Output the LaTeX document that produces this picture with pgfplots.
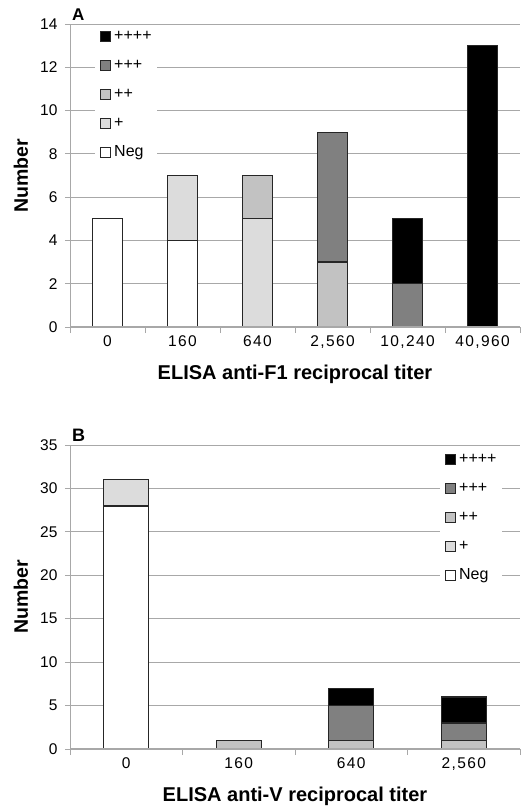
\documentclass[border=0pt]{standalone}
\usepackage{fontspec}
\setmainfont{Liberation Sans}
\newfontfamily\tickfont[LetterSpace=9]{Liberation Sans}
\usepackage{pgfplots}
\usepackage{pgfplotstable}
\pgfplotsset{compat=1.18}

\definecolor{cNeg}{HTML}{FFFFFF}
\definecolor{cPlus}{HTML}{DCDCDC}
\definecolor{cPP}{HTML}{C2C2C2}
\definecolor{cPPP}{HTML}{808080}
\definecolor{cPPPP}{HTML}{000000}
\definecolor{gridc}{HTML}{A8A8A8}

\pgfplotstableread{
x neg plus pp ppp pppp
0 5 0 0 0 0
1 4 3 0 0 0
2 0 5 2 0 0
3 0 0 3 6 0
4 0 0 0 2 3
5 0 0 0 0 13
}\dataA

\pgfplotstableread{
x neg plus pp ppp pppp
0 28 3 0 0 0
1 0 0 1 0 0
2 0 0 1 4 2
3 0 0 1 2 3
}\dataB

\pgfplotsset{
  sqleg/.style={legend image code/.code={\draw[##1, line width=1bp] (0bp,-5bp) rectangle (10bp,5bp);}},
  mybar/.style={
    scale only axis,
    width=450bp,
    ybar stacked,
    axis lines=left,
    axis line style={draw=gridc, line width=1bp, -},
    enlargelimits=false,
    ymin=0,
    ymajorgrids,
    grid style={draw=gridc, line width=1bp},
    tick align=outside,
    major tick length=5bp,
    minor tick length=6bp,
    tick style={draw=gridc, line width=1bp},
    major x tick style={draw=none},
    minor x tick style={draw=gridc, line width=1bp},
    tick label style={font=\fontsize{15.5bp}{18bp}\selectfont},
    xticklabel style={font=\tickfont\fontsize{15.5bp}{18bp}\selectfont},
    yticklabel style={xshift=-4bp},
    /pgf/number format/assume math mode=true,
    ylabel={Number},
    ylabel style={font=\bfseries\fontsize{19.5bp}{22bp}\selectfont, at={(axis description cs:-0.109,0.5)}, anchor=center},
    xlabel style={font=\bfseries\fontsize{20bp}{22bp}\selectfont, at={(axis description cs:0.5,0)}, anchor=center, yshift=-47bp},
    every axis plot/.append style={draw=black!85, line width=1.4bp, sqleg},
    reverse legend,
    legend style={draw=none, fill=white, inner xsep=5bp, inner ysep=3bp,
      row sep=15bp, column sep=3bp,
      font=\fontsize{16bp}{18bp}\selectfont,
      nodes={inner sep=0pt, text height=11bp, text depth=3bp},
      cells={anchor=west}},
  }
}

\begin{document}
\begin{tikzpicture}
\useasboundingbox (0,0) rectangle (522bp,-809bp);

\begin{axis}[mybar,
  at={(70bp,-327bp)}, anchor=south west,
  height=303bp,
  bar width=30bp,
  xmin=-0.5, xmax=5.5,
  ymax=14, ytick={0,2,...,14},
  xtick={0,1,2,3,4,5},
  xticklabels={0,160,640,{2,560},{10,240},{40,960}},
  minor xtick={-0.5,0.5,1.5,2.5,3.5,4.5,5.5},
  xlabel={ELISA anti-F1 reciprocal titer},
  legend style={at={(0.0556,0.9934)}, anchor=north west},
]
\draw[gridc, line width=1.7bp] (axis cs:-0.5,0) -- (axis cs:5.5,0);
\addplot[fill=cNeg] table[x=x,y=neg] {\dataA};
\addplot[fill=cPlus] table[x=x,y=plus] {\dataA};
\addplot[fill=cPP] table[x=x,y=pp] {\dataA};
\addplot[fill=cPPP] table[x=x,y=ppp] {\dataA};
\addplot[fill=cPPPP] table[x=x,y=pppp] {\dataA};
\legend{Neg,+,++,+++,++++}
\end{axis}

\begin{axis}[mybar,
  at={(70bp,-749bp)}, anchor=south west,
  height=304bp,
  bar width=45bp,
  xmin=-0.5, xmax=3.5,
  ymax=35, ytick={0,5,...,35},
  xtick={0,1,2,3},
  xticklabels={0,160,640,{2,560}},
  minor xtick={-0.5,0.5,1.5,2.5,3.5},
  xlabel={ELISA anti-V reciprocal titer},
  legend style={at={(0.8222,0.9868)}, anchor=north west},
]
\draw[gridc, line width=1.7bp] (axis cs:-0.5,0) -- (axis cs:3.5,0);
\addplot[fill=cNeg] table[x=x,y=neg] {\dataB};
\addplot[fill=cPlus] table[x=x,y=plus] {\dataB};
\addplot[fill=cPP] table[x=x,y=pp] {\dataB};
\addplot[fill=cPPP] table[x=x,y=ppp] {\dataB};
\addplot[fill=cPPPP] table[x=x,y=pppp] {\dataB};
\legend{Neg,+,++,+++,++++}
\end{axis}

\node[anchor=west, font=\bfseries\fontsize{17bp}{19bp}\selectfont, inner sep=0pt] at (72bp,-15bp) {A};
\node[anchor=west, font=\bfseries\fontsize{18bp}{20bp}\selectfont, inner sep=0pt] at (72bp,-435bp) {B};
\end{tikzpicture}
\end{document}
